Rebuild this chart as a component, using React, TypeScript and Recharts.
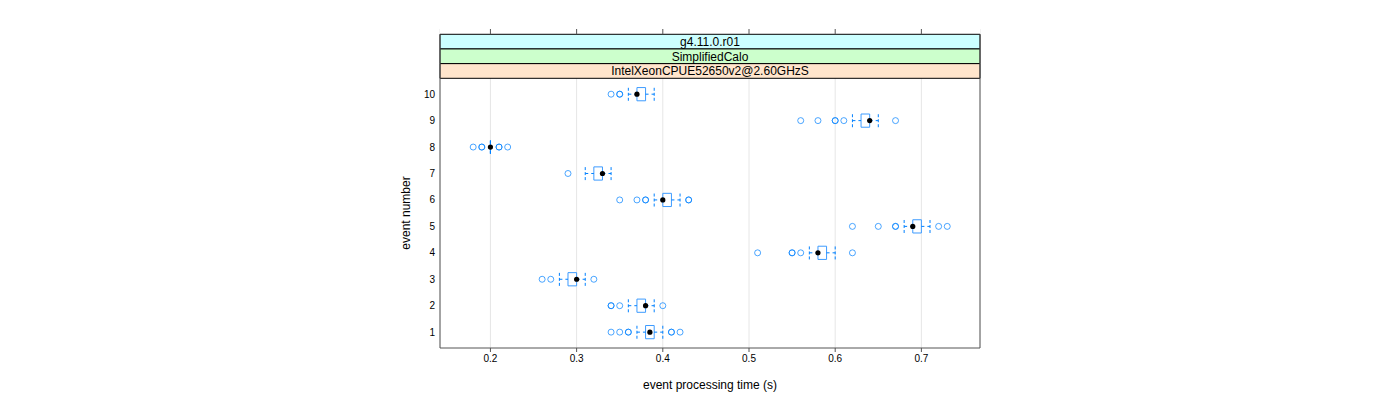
import React from "react";
import {
  ScatterChart,
  Scatter,
  XAxis,
  YAxis,
  CartesianGrid,
  ReferenceArea,
  ReferenceLine,
} from "recharts";

// event numbers (rows, bottom to top)
const events = [1, 2, 3, 4, 5, 6, 7, 8, 9, 10];

// five-number summaries, per event
const whiskerLow = [0.37, 0.36, 0.28, 0.57, 0.68, 0.39, 0.31, 0.2, 0.62, 0.36];
const quartile1 = [0.38, 0.37, 0.29, 0.58, 0.69, 0.4, 0.32, 0.2, 0.63, 0.37];
const medians = [0.385, 0.38, 0.3, 0.58, 0.69, 0.4, 0.33, 0.2, 0.64, 0.37];
const quartile3 = [0.39, 0.38, 0.3, 0.59, 0.7, 0.41, 0.33, 0.2, 0.64, 0.38];
const whiskerHigh = [0.4, 0.39, 0.31, 0.6, 0.71, 0.42, 0.34, 0.2, 0.65, 0.39];

// outliers (repeated values overlap and look bolder)
const outliers = [
  [0.34, 0.35, 0.36, 0.36, 0.41, 0.41, 0.42],
  [0.34, 0.34, 0.35, 0.4],
  [0.26, 0.27, 0.32],
  [0.51, 0.55, 0.55, 0.56, 0.62],
  [0.62, 0.65, 0.67, 0.67, 0.72, 0.73],
  [0.35, 0.37, 0.38, 0.38, 0.43, 0.43],
  [0.29],
  [0.18, 0.19, 0.19, 0.21, 0.21, 0.22],
  [0.56, 0.58, 0.6, 0.6, 0.61, 0.67],
  [0.34, 0.35, 0.35],
];

const xTicks = [0.2, 0.3, 0.4, 0.5, 0.6, 0.7];
const strips = ["g4.11.0.r01", "SimplifiedCalo", "IntelXeonCPUE52650v2@2.60GHzS"];
const stripColors = ["#ccffff", "#ccffcc", "#ffe5cc"];

const X_DOMAIN: [number, number] = [0.1415, 0.768];
const PANEL_TOP = 10.6;
const STRIP_H = 0.555;
const STRIP_TOP = PANEL_TOP + 3 * STRIP_H;
const TOP_TICK = 0.2; // length of the top tick marks in row units
const Y_DOMAIN: [number, number] = [0.4, STRIP_TOP + TOP_TICK];
const HALF = 0.25; // half box height in row units

const BLUE = "#0080ff";
const BOX_BLUE = "#3d9bff";
const FONT = "'Liberation Sans', Arial, Helvetica, sans-serif";

export default function App() {
  const outlierPoints = outliers.flatMap((vals, i) =>
    vals.map((v) => ({ x: v, y: events[i] }))
  );
  const medianPoints = medians.map((m, i) => ({ x: m, y: events[i] }));

  const boxLines: React.ReactNode[] = [];
  events.forEach((ev, i) => {
    const lo = ev - HALF;
    const hi = ev + HALF;
    const q1 = quartile1[i];
    const q3 = quartile3[i];
    const segs: [number, number, number, number, string | undefined, string][] = [
      // box
      [q1, lo, q3, lo, undefined, BOX_BLUE],
      [q1, hi, q3, hi, undefined, BOX_BLUE],
      [q1, lo, q1, hi, undefined, BOX_BLUE],
      [q3, lo, q3, hi, undefined, BOX_BLUE],
      // whiskers
      [whiskerLow[i], ev, q1, ev, "3 3", BLUE],
      [q3, ev, whiskerHigh[i], ev, "3 3", BLUE],
      // caps
      [whiskerLow[i], lo, whiskerLow[i], hi, "3 2", BLUE],
      [whiskerHigh[i], lo, whiskerHigh[i], hi, "3 2", BLUE],
    ];
    segs.forEach(([x1, y1, x2, y2, dash, col], k) => {
      if (x1 === x2 && y1 === y2) return;
      boxLines.push(
        <ReferenceLine
          key={`b-${ev}-${k}`}
          segment={[
            { x: x1, y: y1 },
            { x: x2, y: y2 },
          ]}
          stroke={col}
          strokeWidth={1}
          strokeDasharray={dash}
          ifOverflow="visible"
        />
      );
    });
  });

  return (
    <div style={{ position: "absolute", left: 0, top: 0, fontFamily: FONT }}>
      <ScatterChart
        width={1400}
        height={400}
        margin={{ top: 29, right: 420, bottom: 0, left: 380 }}
      >
        <CartesianGrid
          horizontal={false}
          stroke="#e6e6e6"
          verticalPoints={undefined}
        />
        <XAxis
          dataKey="x"
          type="number"
          domain={X_DOMAIN}
          ticks={xTicks}
          allowDataOverflow
          height={52}
          tickSize={4}
          tickMargin={3}
          stroke="#555"
          tick={{ fill: "#000", fontSize: 10, fontFamily: FONT }}
          label={{
            value: "event processing time (s)",
            position: "insideBottom",
            offset: 11,
            fill: "#000",
            fontSize: 12,
            fontFamily: FONT,
          }}
        />
        <YAxis
          dataKey="y"
          type="number"
          domain={Y_DOMAIN}
          ticks={events}
          allowDataOverflow
          width={60}
          tickLine={false}
          tickSize={0}
          tickMargin={5}
          axisLine={false}
          tick={{ fill: "#000", fontSize: 10, fontFamily: FONT }}
          label={{
            content: () => (
              <text
                x={406}
                y={213}
                transform="rotate(-90 406 213)"
                textAnchor="middle"
                dominantBaseline="central"
                fontSize={12}
                fontFamily={FONT}
                fill="#000"
              >
                event number
              </text>
            ),
          }}
        />
        {/* white cover above the strips so grid lines stop at the strip top */}
        <ReferenceArea
          x1={X_DOMAIN[0]}
          x2={X_DOMAIN[1]}
          y1={STRIP_TOP}
          y2={Y_DOMAIN[1]}
          fill="#fff"
          fillOpacity={1}
          stroke="none"
          ifOverflow="visible"
        />
        {strips.map((s, i) => (
          <ReferenceArea
            key={s}
            x1={X_DOMAIN[0]}
            x2={X_DOMAIN[1]}
            y1={PANEL_TOP + (2 - i) * STRIP_H}
            y2={PANEL_TOP + (3 - i) * STRIP_H}
            fill={stripColors[i]}
            fillOpacity={1}
            stroke="#000"
            strokeWidth={1}
            ifOverflow="visible"
            label={{
              value: s,
              position: "center",
              fill: "#000",
              fontSize: 12,
              fontFamily: FONT,
            }}
          />
        ))}
        {/* panel sides */}
        <ReferenceLine
          segment={[
            { x: X_DOMAIN[0], y: Y_DOMAIN[0] },
            { x: X_DOMAIN[0], y: STRIP_TOP },
          ]}
          stroke="#555"
          ifOverflow="visible"
        />
        <ReferenceLine
          segment={[
            { x: X_DOMAIN[1], y: Y_DOMAIN[0] },
            { x: X_DOMAIN[1], y: STRIP_TOP },
          ]}
          stroke="#555"
          ifOverflow="visible"
        />
        {/* tick marks above the strips */}
        {xTicks.map((t) => (
          <ReferenceLine
            key={`tt-${t}`}
            segment={[
              { x: t, y: STRIP_TOP },
              { x: t, y: STRIP_TOP + TOP_TICK },
            ]}
            stroke="#555"
            ifOverflow="visible"
          />
        ))}
        {boxLines}
        <Scatter
          data={outlierPoints}
          isAnimationActive={false}
          shape={(p: any) => (
            <circle
              cx={p.cx}
              cy={p.cy}
              r={3}
              fill="none"
              stroke={BLUE}
              strokeOpacity={0.7}
              strokeWidth={1}
            />
          )}
        />
        <Scatter
          data={medianPoints}
          isAnimationActive={false}
          shape={(p: any) => <circle cx={p.cx} cy={p.cy} r={2.6} fill="#000" />}
        />
      </ScatterChart>
    </div>
  );
}
